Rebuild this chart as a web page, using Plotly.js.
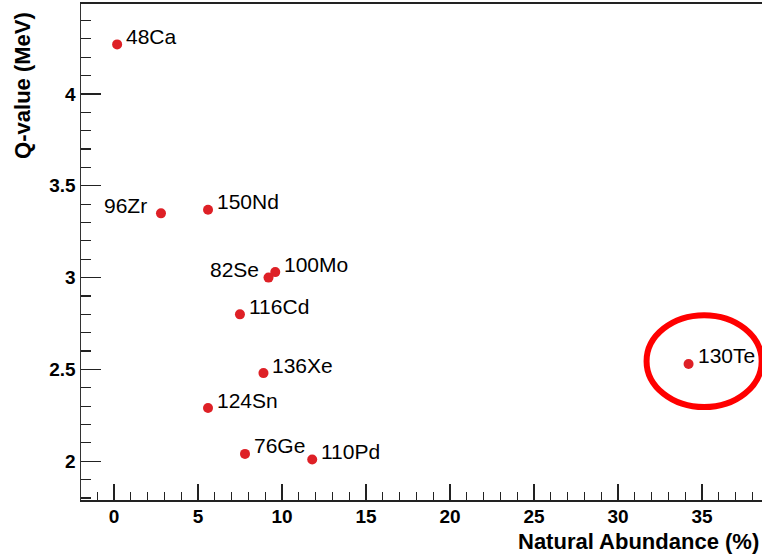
<!DOCTYPE html>
<html>
<head>
<meta charset="utf-8">
<script src="https://cdn.plot.ly/plotly-3.0.1.min.js"></script>
<style>
html,body{margin:0;padding:0;background:#fff;overflow:hidden;}
#chart{width:762px;height:555px;}
</style>
</head>
<body>
<div id="chart"></div>
<script>
// Data
const isotopes  = ['48Ca','96Zr','150Nd','82Se','100Mo','116Cd','136Xe','124Sn','76Ge','110Pd','130Te'];
const abundance = [0.19, 2.8, 5.6, 9.2, 9.6, 7.5, 8.9, 5.6, 7.8, 11.8, 34.2];   // Natural Abundance (%)
const qvalue    = [4.27, 3.35, 3.37, 3.00, 3.03, 2.80, 2.48, 2.29, 2.04, 2.01, 2.53]; // Q-value (MeV)
const leftLabeled = ['96Zr', '82Se'];
const highlighted = '130Te';

const FONT = '"Liberation Sans", Arial, Helvetica, sans-serif';

const trace = {
  type: 'scatter',
  mode: 'markers',
  x: abundance,
  y: qvalue,
  marker: {color: 'rgb(222,32,38)', size: 10, line: {width: 0}},
  hoverinfo: 'skip',
  cliponaxis: false
};

const labelAnns = isotopes.map((name, i) => {
  const left = leftLabeled.includes(name);
  return {
    x: abundance[i], y: qvalue[i], xref: 'x', yref: 'y',
    text: name, showarrow: false,
    xanchor: left ? 'right' : 'left', yanchor: 'middle',
    xshift: left ? (name === '96Zr' ? -12 : -8) : 7,
    yshift: 8,
    font: {family: FONT, size: 21, color: '#000'}
  };
});

const hi = isotopes.indexOf(highlighted);

const layout = {
  width: 762, height: 555,
  margin: {l: 81, r: 0, t: 4, b: 55, pad: 0},
  paper_bgcolor: '#fff', plot_bgcolor: '#fff',
  showlegend: false,
  font: {family: FONT, color: '#000'},
  xaxis: {
    range: [-1.96, 38.57],
    dtick: 5, tick0: 0,
    ticks: 'inside', ticklen: 16, tickwidth: 1.2, tickcolor: '#222',
    minor: {dtick: 1, ticks: 'inside', ticklen: 8, tickwidth: 1.2, tickcolor: '#222', showgrid: false},
    showgrid: false, zeroline: false,
    showline: true, linecolor: '#222', linewidth: 2, mirror: true,
    tickfont: {family: FONT, size: 19, color: '#000', weight: 'bold'},
    ticklabelstandoff: -2
  },
  yaxis: {
    range: [1.789, 4.49],
    dtick: 0.5, tick0: 2,
    ticks: 'inside', ticklen: 20, tickwidth: 1.2, tickcolor: '#222',
    minor: {dtick: 0.1, ticks: 'inside', ticklen: 10, tickwidth: 1.2, tickcolor: '#222', showgrid: false},
    showgrid: false, zeroline: false,
    showline: true, linecolor: '#333', linewidth: 1.5, mirror: false,
    tickfont: {family: FONT, size: 19, color: '#000', weight: 'bold'},
    ticklabelstandoff: 0
  },
  annotations: labelAnns.concat([
    {
      xref: 'paper', yref: 'paper', x: 0.998, y: -0.083,
      xanchor: 'right', yanchor: 'middle', showarrow: false,
      text: 'Natural Abundance (%)',
      font: {family: FONT, size: 22, color: '#000', weight: 'bold'}
    },
    {
      xref: 'paper', yref: 'paper', x: -0.086, y: 0.988,
      xanchor: 'center', yanchor: 'top', showarrow: false, textangle: -90,
      text: 'Q-value (MeV)',
      font: {family: FONT, size: 22, color: '#000', weight: 'bold'}
    }
  ]),
  shapes: [{
    type: 'circle', xref: 'x', yref: 'y',
    x0: abundance[hi] - 2.5, x1: abundance[hi] + 4.35,
    y0: qvalue[hi] - 0.235, y1: qvalue[hi] + 0.265,
    line: {color: 'rgb(255,0,0)', width: 6}
  }]
};

Plotly.newPlot('chart', [trace], layout, {staticPlot: true, displayModeBar: false});
</script>
</body>
</html>
